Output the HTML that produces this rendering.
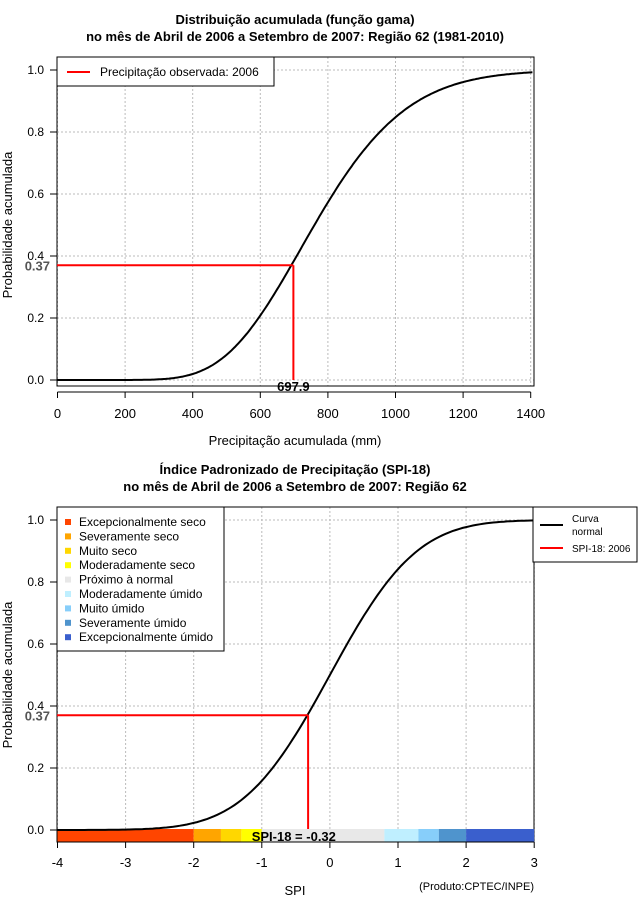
<!DOCTYPE html>
<html><head><meta charset="utf-8"><style>
body{margin:0;background:#fff;}
svg{display:block;font-family:"Liberation Sans",sans-serif;}
</style></head><body>
<svg id="s" width="640" height="900" xmlns="http://www.w3.org/2000/svg">
<rect width="640" height="900" fill="#fff"/>
<g font-weight="bold" font-size="13" text-anchor="middle">
<text x="295" y="24">Distribuição acumulada (função gama)</text>
<text x="295" y="41">no mês de Abril de 2006 a Setembro de 2007: Região 62 (1981-2010)</text>
<text x="295" y="474">Índice Padronizado de Precipitação (SPI-18)</text>
<text x="295" y="491">no mês de Abril de 2006 a Setembro de 2007: Região 62</text>
</g>
<g id="top"></g>
<g id="bot"></g>
</svg>
<script>
var NS="http://www.w3.org/2000/svg",s=document.getElementById('s');
function el(t,a,txt,p){var e=document.createElementNS(NS,t);for(var k in a)e.setAttribute(k,a[k]);if(txt!=null)e.textContent=txt;(p||s).appendChild(e);return e;}
function erf(x){var t=1/(1+0.3275911*Math.abs(x));var y=1-(((((1.061405429*t-1.453152027)*t)+1.421413741)*t-0.284496736)*t+0.254829592)*t*Math.exp(-x*x);return x>=0?y:-y;}
function Phi(z){return 0.5*(1+erf(z/Math.SQRT2));}
// ---- TOP ----
var X0=57.5,XS=67.6/200,Y0=380,YS=310;
function tx(v){return X0+v*XS;} function ty(p){return Y0-p*YS;}
// grid
for(var v=0;v<=1400;v+=200){el('line',{x1:tx(v),y1:57,x2:tx(v),y2:386,stroke:'#bbb','stroke-dasharray':'2,2'});}
for(var p=0;p<=1;p+=0.2){el('line',{x1:57,y1:ty(p),x2:534,y2:ty(p),stroke:'#bbb','stroke-dasharray':'2,2'});}
el('rect',{x:57,y:57,width:477,height:329,fill:'none',stroke:'#000'});
// y axis ticks
['0.0','0.2','0.4','0.6','0.8','1.0'].forEach(function(l,i){var y=ty(i*0.2);el('line',{x1:50,y1:y,x2:57,y2:y,stroke:'#000'});el('text',{x:44,y:y+4,'font-size':12,'text-anchor':'end'},l);});
// x axis
el('line',{x1:tx(0),y1:392,x2:tx(1400),y2:392,stroke:'#000'});
for(var v=0;v<=1400;v+=200){el('line',{x1:tx(v),y1:392,x2:tx(v),y2:398,stroke:'#000'});el('text',{x:tx(v),y:418,'font-size':13,'text-anchor':'middle'},String(v));}
el('text',{x:295,y:445,'font-size':13,'text-anchor':'middle'},'Precipitação acumulada (mm)');
el('text',{x:12,y:225,'font-size':13,'text-anchor':'middle',transform:'rotate(-90 12 225)'},'Probabilidade acumulada');
// curve
var k=13,m=780,d='';
for(var v=0;v<=1405;v+=5){var r=Math.max(v,0.001)/m;var z=(Math.cbrt(r)-(1-1/(9*k)))/Math.sqrt(1/(9*k));var pp=Phi(z);d+=(v?'L':'M')+tx(v).toFixed(1)+','+ty(pp).toFixed(1);}
el('path',{d:d,fill:'none',stroke:'#000','stroke-width':2});
el('line',{x1:57,y1:ty(0.37),x2:tx(697.9),y2:ty(0.37),stroke:'#f00','stroke-width':2});
el('line',{x1:tx(697.9),y1:ty(0.37),x2:tx(697.9),y2:380,stroke:'#f00','stroke-width':2});
el('text',{x:50,y:ty(0.37)+5,'font-size':13,'text-anchor':'end',fill:'#555','font-weight':'bold'},'0.37');
el('text',{x:tx(697.9),y:391,'font-size':13,'text-anchor':'middle','font-weight':'bold'},'697.9');
el('rect',{x:57,y:57,width:217,height:29,fill:'#fff',stroke:'#000'});
el('line',{x1:67,y1:72,x2:90,y2:72,stroke:'#f00','stroke-width':2});
el('text',{x:100,y:76,'font-size':12},'Precipitação observada: 2006');
// ---- BOTTOM ----
var B0=57.5,BS=68.1,BY=830;
function bx(v){return B0+(v+4)*BS;} function by(p){return BY-p*YS;}
for(var v=-4;v<=3;v++){el('line',{x1:bx(v),y1:507,x2:bx(v),y2:842,stroke:'#bbb','stroke-dasharray':'2,2'});}
for(var p=0;p<=1;p+=0.2){el('line',{x1:57,y1:by(p),x2:534,y2:by(p),stroke:'#bbb','stroke-dasharray':'2,2'});}
el('rect',{x:57,y:507,width:477,height:335,fill:'none',stroke:'#000'});
['0.0','0.2','0.4','0.6','0.8','1.0'].forEach(function(l,i){var y=by(i*0.2);el('line',{x1:50,y1:y,x2:57,y2:y,stroke:'#000'});el('text',{x:44,y:y+4,'font-size':12,'text-anchor':'end'},l);});
var segs=[[-4,-2,'#ff4500'],[-2,-1.6,'#ffa500'],[-1.6,-1.3,'#ffd700'],[-1.3,-1,'#ffff00'],[-1,0.8,'#e8e8e8'],[0.8,1.3,'#bfefff'],[1.3,1.6,'#87cefa'],[1.6,2,'#4f94cd'],[2,3,'#3a5fcd']];
segs.forEach(function(g){el('rect',{x:bx(g[0]),y:829,width:bx(g[1])-bx(g[0]),height:13,fill:g[2]});});
el('line',{x1:bx(-4),y1:842,x2:bx(3),y2:842,stroke:'#000'});
for(var v=-4;v<=3;v++){el('line',{x1:bx(v),y1:842,x2:bx(v),y2:848,stroke:'#000'});el('text',{x:bx(v),y:867,'font-size':13,'text-anchor':'middle'},String(v));}
el('text',{x:295,y:895,'font-size':13,'text-anchor':'middle'},'SPI');
el('text',{x:534,y:890,'font-size':11,'text-anchor':'end'},'(Produto:CPTEC/INPE)');
el('text',{x:12,y:675,'font-size':13,'text-anchor':'middle',transform:'rotate(-90 12 675)'},'Probabilidade acumulada');
d='';
for(var v=-4;v<=3.001;v+=0.05){d+=(v>-4?'L':'M')+bx(v).toFixed(1)+','+by(Phi(v)).toFixed(1);}
el('path',{d:d,fill:'none',stroke:'#000','stroke-width':2});
el('line',{x1:57,y1:by(0.37),x2:bx(-0.32),y2:by(0.37),stroke:'#f00','stroke-width':2});
el('line',{x1:bx(-0.32),y1:by(0.37),x2:bx(-0.32),y2:829,stroke:'#f00','stroke-width':2});
el('text',{x:50,y:by(0.37)+5,'font-size':13,'text-anchor':'end',fill:'#555','font-weight':'bold'},'0.37');
el('text',{x:bx(-0.53),y:841,'font-size':13,'text-anchor':'middle','font-weight':'bold'},'SPI-18 = -0.32');
el('rect',{x:57,y:507,width:167,height:144,fill:'#fff',stroke:'#000'});
var L=[['Excepcionalmente seco','#ff4500'],['Severamente seco','#ffa500'],['Muito seco','#ffd700'],['Moderadamente seco','#ffff00'],['Próximo à normal','#e8e8e8'],['Moderadamente úmido','#bfefff'],['Muito úmido','#87cefa'],['Severamente úmido','#4f94cd'],['Excepcionalmente úmido','#3a5fcd']];
L.forEach(function(g,i){var y=522+i*14.4;el('rect',{x:65,y:y-3,width:6,height:6,fill:g[1]});el('text',{x:79,y:y+4,'font-size':12},g[0]);});
el('rect',{x:533,y:507,width:104,height:55,fill:'#fff',stroke:'#000'});
el('line',{x1:540,y1:525,x2:563,y2:525,stroke:'#000','stroke-width':2});
el('text',{x:572,y:522,'font-size':10},'Curva');
el('text',{x:572,y:535,'font-size':10},'normal');
el('line',{x1:540,y1:548,x2:563,y2:548,stroke:'#f00','stroke-width':2});
el('text',{x:572,y:552,'font-size':10},'SPI-18: 2006');
</script>
</body></html>
